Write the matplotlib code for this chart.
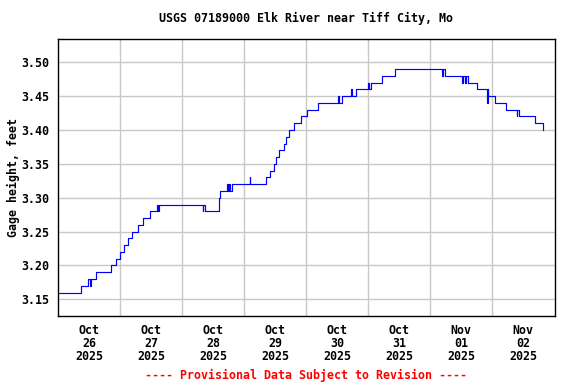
import numpy as np
import matplotlib
matplotlib.use("Agg")
import matplotlib.pyplot as plt

# gage height: time in days after Oct 26 00:00, value in feet (step changes)
dias = [0.0, 0.377, 0.484, 0.515, 0.53, 0.608, 0.85, 0.942, 0.975, 1.0, 1.06, 1.135,
        1.194, 1.29, 1.371, 1.484, 1.60, 1.61, 1.625, 2.339, 2.345, 2.366, 2.59, 2.608,
        2.726, 2.74, 2.76, 2.78, 2.80, 3.09, 3.095, 3.35, 3.415, 3.479, 3.51, 3.565,
        3.64, 3.68, 3.72, 3.80, 3.91, 4.006, 4.19, 4.52, 4.53, 4.57, 4.73, 4.74, 4.80,
        5.0, 5.01, 5.05, 5.216, 5.43, 6.19, 6.205, 6.23, 6.51, 6.53, 6.56, 6.58, 6.61,
        6.75, 6.77, 6.92, 6.925, 6.935, 7.04, 7.216, 7.39, 7.40, 7.43, 7.45, 7.69, 7.81]
altura = [3.16, 3.17, 3.18, 3.17, 3.18, 3.19, 3.20, 3.21, 3.21, 3.22, 3.23, 3.24,
          3.25, 3.26, 3.27, 3.28, 3.29, 3.28, 3.29, 3.28, 3.29, 3.28, 3.30, 3.31,
          3.32, 3.31, 3.32, 3.31, 3.32, 3.33, 3.32, 3.33, 3.34, 3.35, 3.36, 3.37,
          3.38, 3.39, 3.40, 3.41, 3.42, 3.43, 3.44, 3.45, 3.44, 3.45, 3.46, 3.45, 3.46,
          3.47, 3.46, 3.47, 3.48, 3.49, 3.48, 3.49, 3.48, 3.47, 3.48, 3.47, 3.48, 3.47,
          3.46, 3.46, 3.44, 3.46, 3.45, 3.44, 3.43, 3.42, 3.43, 3.42, 3.42, 3.41, 3.40]

etiquetasX = ["Oct\n26\n2025", "Oct\n27\n2025", "Oct\n28\n2025", "Oct\n29\n2025",
              "Oct\n30\n2025", "Oct\n31\n2025", "Nov\n01\n2025", "Nov\n02\n2025"]
valoresY = [3.15, 3.20, 3.25, 3.30, 3.35, 3.40, 3.45, 3.50]

fuente = {"family": "DejaVu Sans Mono", "weight": "bold", "size": 8.4}

fig = plt.figure(figsize=(5.76, 3.84), dpi=100)
ax = fig.add_axes([0.1007, 0.177, 0.8628, 0.7207])

ax.plot(dias, altura, drawstyle="steps-post", color="#0000FF", linewidth=0.85)

ax.set_xlim(0, 8.01)
ax.set_ylim(3.1253, 3.534)

# grid at midnight, labels at noon
ax.set_xticks(np.arange(1, 8), minor=False)
ax.set_xticklabels([])
ax.set_xticks(np.arange(len(etiquetasX)) + 0.5, minor=True)
ax.set_xticklabels(etiquetasX, minor=True, fontdict=fuente, linespacing=1.0)
ax.tick_params(axis="x", which="minor", length=0, pad=6)
ax.tick_params(axis="x", which="major", length=3, direction="in", color="#C8C8C8")
ax.set_yticks(valoresY)
ax.set_yticklabels(["%.2f" % v for v in valoresY], fontdict=fuente)
ax.tick_params(axis="y", length=0, pad=6)
ax.grid(True, which="major", color="#C8C8C8", linewidth=1.0)
ax.set_axisbelow(True)
for s in ax.spines.values():
    s.set_linewidth(1.0)

ax.set_ylabel("Gage height, feet", fontdict=fuente, labelpad=1)
fig.text(0.531, 0.951, "USGS 07189000 Elk River near Tiff City, Mo", ha="center", va="center", **fuente)
fig.text(0.531, 0.022, "---- Provisional Data Subject to Revision ----", ha="center", va="center",
         color="#FF0000", **fuente)

fig.savefig("out.png", dpi=100)
